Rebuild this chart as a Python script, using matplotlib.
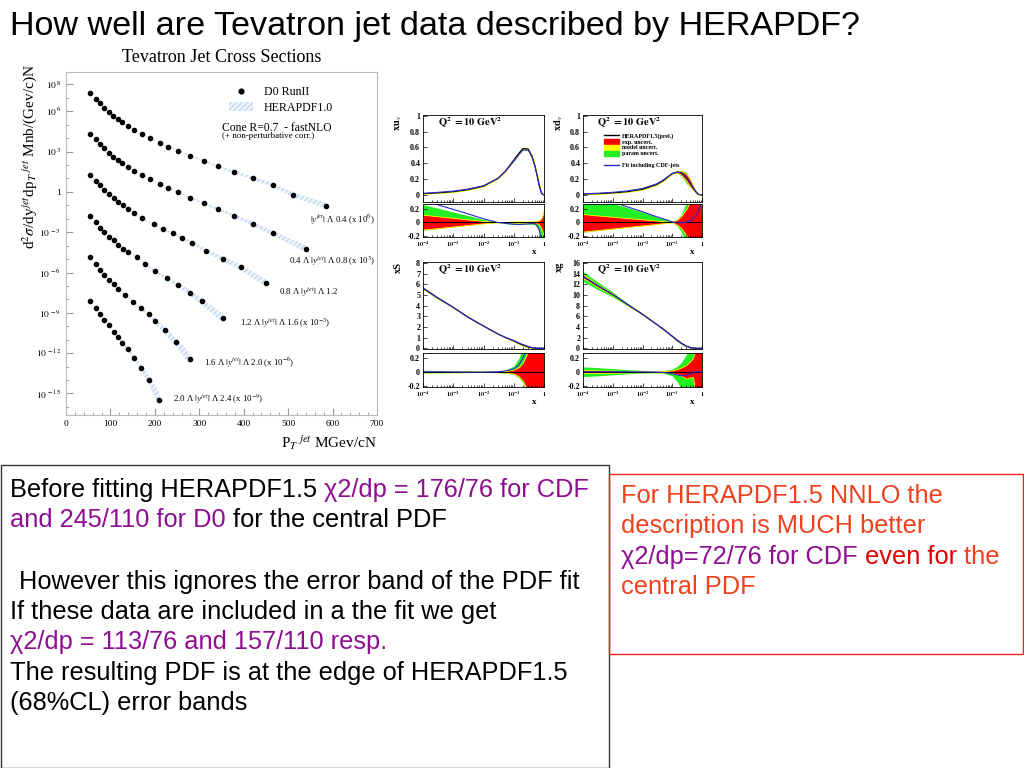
import numpy as np
import matplotlib
matplotlib.use("Agg")
import matplotlib.pyplot as plt
from matplotlib.patches import Rectangle, Patch
from matplotlib.lines import Line2D
from matplotlib.ticker import FixedLocator, NullFormatter, MultipleLocator, LogLocator

plt.rcParams['font.family'] = ['Liberation Serif', 'DejaVu Serif']
plt.rcParams['mathtext.fontset'] = 'stix'
plt.rcParams['hatch.linewidth'] = 0.5
SANS = ['Liberation Sans', 'DejaVu Sans']

# ---- D0 Run II inclusive jets: pT (GeV) and log10 of the (scaled) cross section
pt_1 = [54, 67, 76, 86, 97, 106, 117, 127, 139, 154, 170, 190, 211, 230, 253, 280, 310, 341, 379, 420, 466, 512, 586]
lg_1 = [7.38, 6.93, 6.59, 6.24, 5.94, 5.67, 5.44, 5.22, 4.87, 4.63, 4.30, 3.98, 3.66, 3.36, 3.06, 2.69, 2.32, 1.90, 1.47, 1.03, 0.48, -0.21, -1.03]
bw_1 = [0.03, 0.03, 0.03, 0.03, 0.03, 0.03, 0.03, 0.03, 0.03, 0.03, 0.04, 0.04, 0.04, 0.05, 0.05, 0.06, 0.07, 0.08, 0.10, 0.12, 0.15, 0.18, 0.22]

pt_2 = [54, 67, 76, 86, 97, 106, 117, 127, 139, 154, 170, 190, 211, 230, 253, 280, 310, 341, 379, 420, 466, 540]
lg_2 = [4.33, 3.91, 3.56, 3.24, 2.91, 2.62, 2.37, 2.14, 1.82, 1.57, 1.25, 0.93, 0.61, 0.31, -0.04, -0.44, -0.86, -1.28, -1.78, -2.37, -3.09, -4.23]
bw_2 = [0.03, 0.03, 0.03, 0.03, 0.03, 0.03, 0.03, 0.03, 0.03, 0.04, 0.04, 0.04, 0.05, 0.05, 0.06, 0.07, 0.08, 0.10, 0.12, 0.15, 0.18, 0.25]

pt_3 = [54, 67, 76, 86, 97, 107, 117, 129, 139, 154, 170, 197, 219, 240, 260, 283, 316, 353, 393, 450]
lg_3 = [1.25, 0.83, 0.48, 0.13, -0.16, -0.46, -0.76, -0.98, -1.28, -1.55, -1.93, -2.40, -2.77, -3.09, -3.41, -3.79, -4.38, -4.98, -5.60, -6.81]
bw_3 = [0.03, 0.03, 0.03, 0.03, 0.03, 0.03, 0.03, 0.04, 0.04, 0.04, 0.05, 0.06, 0.07, 0.08, 0.10, 0.12, 0.15, 0.18, 0.22, 0.28]

pt_4 = [54, 67, 76, 86, 97, 107, 117, 129, 139, 159, 178, 200, 227, 253, 278, 305, 353]
lg_4 = [-1.80, -2.25, -2.65, -2.99, -3.32, -3.61, -3.94, -4.23, -4.48, -4.83, -5.35, -5.90, -6.44, -6.94, -7.51, -8.13, -9.42]
bw_4 = [0.03, 0.03, 0.03, 0.03, 0.04, 0.04, 0.04, 0.05, 0.05, 0.06, 0.08, 0.10, 0.13, 0.16, 0.20, 0.25, 0.32]

pt_5 = [54, 67, 76, 86, 97, 107, 117, 133, 151, 168, 186, 201, 222, 247, 278]
lg_5 = [-4.88, -5.37, -5.80, -6.17, -6.52, -6.84, -7.21, -7.68, -8.20, -8.67, -9.10, -9.62, -10.31, -11.16, -12.40]
bw_5 = [0.03, 0.03, 0.04, 0.04, 0.04, 0.05, 0.06, 0.07, 0.09, 0.11, 0.14, 0.18, 0.24, 0.32, 0.42]

pt_6 = [54, 67, 76, 86, 97, 107, 117, 127, 139, 154, 169, 186, 210]
lg_6 = [-8.13, -8.63, -9.10, -9.52, -9.94, -10.39, -10.78, -11.21, -11.70, -12.37, -13.07, -13.96, -15.45]
bw_6 = [0.04, 0.04, 0.05, 0.05, 0.06, 0.07, 0.08, 0.10, 0.13, 0.17, 0.23, 0.32, 0.50]

jet_labels = [r'$|y^{jet}|$ Λ 0.4 (x 10$^{6}$)',
              r'0.4 Λ $|y^{jet}|$ Λ 0.8 (x 10$^{3}$)',
              r'0.8 Λ $|y^{jet}|$ Λ 1.2',
              r'1.2 Λ $|y^{jet}|$ Λ 1.6 (x 10$^{-3}$)',
              r'1.6 Λ $|y^{jet}|$ Λ 2.0 (x 10$^{-6}$)',
              r'2.0 Λ $|y^{jet}|$ Λ 2.4 (x 10$^{-9}$)']
jet_yticks = [8, 6, 3, 0, -3, -6, -9, -12, -15]

# ---- HERAPDF1.5 at Q2 = 10 GeV2
xgrid = [1e-4, 3e-4, 1e-3, 3e-3, 1e-2, 3e-2, 0.05, 0.1, 0.15, 0.2, 0.3, 0.4, 0.5, 0.6, 0.7, 0.8, 0.9, 1.0]

xuv = [0.015, 0.025, 0.04, 0.065, 0.11, 0.21, 0.29, 0.44, 0.53, 0.585, 0.58, 0.49, 0.37, 0.24, 0.12, 0.04, 0.008, 0.0]
xuv_exp_hi = [0.11, 0.088, 0.064, 0.042, 0.017, 0.003, 0.005, 0.01, 0.01, 0.01, 0.01, 0.012, 0.015, 0.02, 0.03, 0.05, 0.1, 0.2]
xuv_exp_lo = [-0.11, -0.088, -0.064, -0.042, -0.017, -0.003, -0.005, -0.01, -0.01, -0.01, -0.01, -0.012, -0.015, -0.02, -0.04, -0.08, -0.15, -0.2]
xuv_par_hi = [0.26, 0.21, 0.15, 0.10, 0.041, 0.005, 0.007, 0.012, 0.012, 0.012, 0.012, 0.015, 0.02, 0.025, 0.035, 0.06, 0.12, 0.22]
xuv_par_lo = [-0.12, -0.095, -0.07, -0.046, -0.02, -0.006, -0.02, -0.035, -0.035, -0.03, -0.03, -0.03, -0.04, -0.08, -0.15, -0.3, -0.35, -0.35]
xuv_fit = [0.32, 0.26, 0.19, 0.125, 0.05, -0.005, -0.015, -0.03, -0.035, -0.03, -0.025, -0.02, -0.02, -0.05, -0.12, -0.25, -0.35, -0.35]

xdv = [0.01, 0.015, 0.025, 0.04, 0.07, 0.13, 0.18, 0.27, 0.29, 0.28, 0.22, 0.15, 0.09, 0.045, 0.017, 0.005, 0.001, 0.0]
xdv_exp_hi = [0.12, 0.10, 0.08, 0.061, 0.042, 0.023, 0.013, 0.002, 0.04, 0.09, 0.2, 0.3, 0.3, 0.3, 0.3, 0.3, 0.3, 0.3]
xdv_exp_lo = [-0.14, -0.118, -0.094, -0.071, -0.049, -0.027, -0.015, -0.002, -0.04, -0.09, -0.2, -0.3, -0.3, -0.3, -0.3, -0.3, -0.3, -0.3]
xdv_par_hi = [0.35, 0.33, 0.28, 0.22, 0.15, 0.08, 0.05, 0.006, 0.05, 0.11, 0.3, 0.35, 0.35, 0.35, 0.35, 0.35, 0.35, 0.35]
xdv_par_lo = [-0.15, -0.125, -0.1, -0.076, -0.053, -0.03, -0.018, -0.004, -0.06, -0.14, -0.35, -0.35, -0.35, -0.35, -0.35, -0.35, -0.35, -0.35]
xdv_fit = [0.4, 0.36, 0.3, 0.23, 0.155, 0.08, 0.05, 0.005, -0.01, -0.01, 0.0, 0.02, 0.05, 0.1, 0.15, 0.2, 0.25, 0.3]

xsea = [5.65, 4.75, 3.85, 2.95, 2.1, 1.35, 1.05, 0.7, 0.45, 0.3, 0.13, 0.06, 0.025, 0.01, 0.004, 0.001, 0.0, 0.0]
xsea_exp_hi = [0.01, 0.009, 0.008, 0.006, 0.005, 0.006, 0.01, 0.03, 0.07, 0.13, 0.3, 0.3, 0.3, 0.3, 0.3, 0.3, 0.3, 0.3]
xsea_exp_lo = [-0.01, -0.009, -0.008, -0.006, -0.005, -0.006, -0.01, -0.03, -0.07, -0.13, -0.3, -0.3, -0.3, -0.3, -0.3, -0.3, -0.3, -0.3]
xsea_par_hi = [0.02, 0.018, 0.015, 0.012, 0.01, 0.012, 0.02, 0.08, 0.2, 0.35, 0.35, 0.35, 0.35, 0.35, 0.35, 0.35, 0.35, 0.35]
xsea_par_lo = [-0.02, -0.018, -0.015, -0.012, -0.01, -0.012, -0.02, -0.04, -0.09, -0.16, -0.35, -0.35, -0.35, -0.35, -0.35, -0.35, -0.35, -0.35]
xsea_fit = [0.0, 0.0, -0.003, -0.005, -0.005, 0.0, 0.01, 0.04, 0.1, 0.2, 0.35, 0.35, 0.35, 0.35, 0.35, 0.35, 0.35, 0.35]

xglu = [13.5, 11.8, 10.1, 8.3, 6.4, 4.5, 3.6, 2.3, 1.5, 1.0, 0.42, 0.17, 0.06, 0.02, 0.005, 0.001, 0.0, 0.0]
xglu_exp_hi = [0.025, 0.02, 0.015, 0.01, 0.008, 0.008, 0.01, 0.02, 0.04, 0.06, 0.1, 0.15, 0.2, 0.3, 0.3, 0.3, 0.3, 0.3]
xglu_exp_lo = [-0.02, -0.018, -0.015, -0.01, -0.008, -0.008, -0.01, -0.02, -0.04, -0.06, -0.1, -0.08, -0.08, -0.3, -0.3, -0.3, -0.3, -0.3]
xglu_par_hi = [0.07, 0.06, 0.045, 0.03, 0.02, 0.015, 0.015, 0.04, 0.08, 0.13, 0.25, 0.35, 0.35, 0.35, 0.35, 0.35, 0.35, 0.35]
xglu_par_lo = [-0.07, -0.06, -0.045, -0.03, -0.02, -0.015, -0.02, -0.06, -0.15, -0.25, -0.3, -0.35, -0.2, -0.35, -0.35, -0.35, -0.35, -0.35]
xglu_fit = [0.0, 0.0, 0.0, 0.0, -0.002, -0.005, -0.01, -0.03, -0.045, -0.06, -0.05, -0.03, -0.02, 0.0, 0.0, 0.0, 0.0, 0.0]

W, H = 1024, 768
fig = plt.figure(figsize=(W / 100, H / 100), dpi=100)


def px_axes(l, t, r, b):
    return fig.add_axes([l / W, 1 - b / H, (r - l) / W, (b - t) / H])


def ftext(x, y, s, **kw):
    return fig.text(x / W, 1 - y / H, s, **kw)


ftext(10, 35, 'How well are Tevatron jet data described by HERAPDF?', fontsize=24.6, family=SANS)

# ================= Tevatron jet cross sections =================
ax = px_axes(66, 72, 377, 415)
ax.set_yscale('log')
ax.set_xlim(0, 700)
ax.set_ylim(10 ** -16.6, 10 ** 8.92)
for pt, lg, bw in [(pt_1, lg_1, bw_1), (pt_2, lg_2, bw_2), (pt_3, lg_3, bw_3),
                   (pt_4, lg_4, bw_4), (pt_5, lg_5, bw_5), (pt_6, lg_6, bw_6)]:
    pt, lg, bw = np.array(pt), np.array(lg), np.array(bw)
    ax.fill_between(pt, 10 ** (lg - bw), 10 ** (lg + bw), facecolor='#eef4fc',
                    edgecolor='#9fbde6', hatch='//////', lw=0)
    ax.plot(pt, 10.0 ** lg, 'o', color='black', ms=3.0)

lab_pos = [(549, -2.1), (501, -5.17), (480, -7.46), (392, -9.76), (311, -12.75), (241, -15.43)]
for s, (xp, yp) in zip(jet_labels, lab_pos):
    ax.text(xp, 10 ** yp, s, fontsize=6.3, va='center', ha='left')

ax.set_xticks(range(0, 701, 100))
ax.xaxis.set_minor_locator(MultipleLocator(20))
ax.set_yticks([10.0 ** e for e in jet_yticks])
ax.set_yticklabels(['1' if e == 0 else r'$10^{\,%d}$' % e for e in jet_yticks])
ax.yaxis.set_minor_locator(FixedLocator([10.0 ** e for e in range(-16, 9)]))
ax.yaxis.set_minor_formatter(NullFormatter())
ax.tick_params(which='both', direction='in', color='#999999', labelsize=6.8)
ax.tick_params(which='major', length=5)
ax.tick_params(which='minor', length=2.5)
for sp in ax.spines.values():
    sp.set_color('#bbbbbb')
    sp.set_linewidth(0.8)

h1 = Line2D([], [], marker='o', color='black', ls='none', ms=3.4)
h2 = Patch(facecolor='#eef4fc', edgecolor='#9fbde6', hatch='//////', lw=0)
ax.legend([h1, h2], ['D0 RunII', 'HERAPDF1.0'], loc='upper left', bbox_to_anchor=(0.49, 0.99),
          frameon=False, fontsize=8.6, handlelength=2.0, handletextpad=0.9, labelspacing=0.3)
ax.text(0.503, 0.837, 'Cone R=0.7  - fastNLO', transform=ax.transAxes, fontsize=8.4, va='center')
ax.text(0.503, 0.812, '(+ non-perturbative corr.)', transform=ax.transAxes, fontsize=6.5, va='center')

ftext(222, 57, 'Tevatron Jet Cross Sections', fontsize=13, ha='center', va='center')
ftext(30, 156, r'd$^{2}\sigma$/dy$^{jet}$dp$_{T}$$^{\ jet}$ Mnb/(Gev/c)N', fontsize=11,
      rotation=90, ha='center', va='center')
ftext(377, 443, r'P$_{T}$$^{\ jet}$ MGev/cN', fontsize=11, ha='right', va='center')

# ================= HERAPDF panels =================
RED, YEL, GRN, BLU = '#ff0000', '#ffff00', '#22ee22', '#2a2ad0'
xg = np.array(xgrid)


def style(a, fs=5.8):
    a.tick_params(which='both', direction='in', labelsize=fs, width=0.5, pad=2)
    a.tick_params(which='major', length=3)
    a.tick_params(which='minor', length=1.5)
    for sp in a.spines.values():
        sp.set_linewidth(0.6)
    for t in a.get_xticklabels() + a.get_yticklabels():
        t.set_fontweight('bold')


def pdf_panel(l, r, tm, bm, tr, br, cen, ehi, elo, phi, plo, fit, ylim, yt, ylab, legend=False):
    cen, ehi, elo = np.array(cen), np.array(ehi), np.array(elo)
    phi, plo, fit = np.array(phi), np.array(plo), np.array(fit)
    am = px_axes(l, tm, r, bm)
    am.set_xscale('log')
    am.fill_between(xg, cen * (1 + plo), cen * (1 + phi), color=GRN, lw=0)
    am.fill_between(xg, cen * (1 + elo), cen * (1 + ehi), facecolor=RED, edgecolor=YEL, lw=0.6)
    am.plot(xg, cen, color='black', lw=0.8)
    am.plot(xg, cen * (1 + fit), color=BLU, lw=0.8)
    am.set_xlim(1e-4, 1)
    am.set_ylim(*ylim)
    am.set_yticks(yt)
    am.set_yticklabels([('%g' % v) for v in yt])
    am.xaxis.set_major_formatter(NullFormatter())
    am.xaxis.set_minor_formatter(NullFormatter())
    am.xaxis.set_minor_locator(LogLocator(subs=np.arange(2, 10), numticks=20))
    style(am)
    am.text(0.39, 0.905, r'$\mathbf{Q^{2}\ =10\ GeV^{2}}$', transform=am.transAxes,
            fontsize=7.5, ha='center', va='center')
    am.text(-0.2, 1.0, ylab, transform=am.transAxes, rotation=90, fontsize=7.5,
            fontweight='bold', ha='center', va='top')
    if legend:
        hs = [Line2D([], [], color='black', lw=1), Patch(color=RED), Patch(color=YEL),
              Patch(color=GRN), Line2D([], [], color='none'), Line2D([], [], color=BLU, lw=1)]
        ls = ['HERAPDF1.5(prel.)', 'exp. uncert.', 'model uncert.', 'param uncert.', '',
              'Fit including CDF-jets']
        am.legend(hs, ls, loc='upper left', bbox_to_anchor=(0.15, 0.83), frameon=False,
                  prop={'size': 4.3, 'weight': 'bold'}, handlelength=2.6, handleheight=0.9,
                  labelspacing=0.05, borderpad=0, handletextpad=0.5)

    ar = px_axes(l, tr, r, br)
    ar.set_xscale('log')
    ar.fill_between(xg, plo, phi, color=GRN, lw=0)
    ar.fill_between(xg, elo, ehi, facecolor=RED, edgecolor=YEL, lw=0.6)
    ar.axhline(0, color='black', lw=0.7)
    ar.plot(xg, fit, color=BLU, lw=0.8)
    ar.set_xlim(1e-4, 1)
    ar.set_ylim(-0.22, 0.27)
    ar.set_yticks([-0.2, 0, 0.2])
    ar.set_yticklabels(['-0.2', '0', '0.2'])
    ar.set_xticks([1e-4, 1e-3, 1e-2, 1e-1, 1])
    ar.set_xticklabels([r'$\mathbf{10^{-4}}$', r'$\mathbf{10^{-3}}$', r'$\mathbf{10^{-2}}$',
                        r'$\mathbf{10^{-1}}$', r'$\mathbf{1}$'])
    ar.xaxis.set_minor_locator(LogLocator(subs=np.arange(2, 10), numticks=20))
    ar.xaxis.set_minor_formatter(NullFormatter())
    style(ar)
    ar.tick_params(axis='x', labelsize=4.5, pad=2)
    ar.text(0.92, -0.45, 'x', transform=ar.transAxes, fontsize=6.5, fontweight='bold',
            ha='center', va='center')


pdf_panel(423, 544, 115, 202, 204, 237, xuv, xuv_exp_hi, xuv_exp_lo, xuv_par_hi, xuv_par_lo,
          xuv_fit, (-0.09, 1.01), [0, 0.2, 0.4, 0.6, 0.8, 1], r'xu$_{v}$')
pdf_panel(583, 702, 115, 202, 204, 237, xdv, xdv_exp_hi, xdv_exp_lo, xdv_par_hi, xdv_par_lo,
          xdv_fit, (-0.09, 1.01), [0, 0.2, 0.4, 0.6, 0.8, 1], r'xd$_{v}$', legend=True)
pdf_panel(423, 544, 262, 349, 353, 387, xsea, xsea_exp_hi, xsea_exp_lo, xsea_par_hi,
          xsea_par_lo, xsea_fit, (-0.06, 8.1), list(range(0, 9)), 'xS')
pdf_panel(583, 702, 262, 349, 353, 387, xglu, xglu_exp_hi, xglu_exp_lo, xglu_par_hi,
          xglu_par_lo, xglu_fit, (-0.12, 16.2), list(range(0, 17, 2)), 'xg')

# ================= text boxes =================
PURP = '#8e0e92'
ORED = '#f0401e'
fig.add_artist(Rectangle((0.5 / W, 0), 608 / W, 1 - 465 / H, transform=fig.transFigure,
                         fill=False, edgecolor='#333333', lw=1.0))
fig.add_artist(Rectangle((609 / W, 1 - 654 / H), 414 / W, 180 / H, transform=fig.transFigure,
                         fill=False, edgecolor='#ee2222', lw=1.0))

FS = 18.3
renderer = fig.canvas.get_renderer()


def rich_line(x, y, parts):
    for s, c in parts:
        ftext(x, y, s, color=c, fontsize=FS, family=SANS, va='baseline')
        probe = ftext(0, 0, s + '|', fontsize=FS, family=SANS)
        bar = ftext(0, 0, '|', fontsize=FS, family=SANS)
        x += probe.get_window_extent(renderer).width - bar.get_window_extent(renderer).width
        probe.remove()
        bar.remove()


left_lines = [
    (10, 497, [('Before fitting HERAPDF1.5 ', 'black'), ('χ2/dp = 176/76 for CDF', PURP)]),
    (10, 527, [('and 245/110 for D0', PURP), (' for the central PDF', 'black')]),
    (19, 589, [('However this ignores the error band of the PDF fit', 'black')]),
    (10, 619, [('If these data are included in a the fit we get', 'black')]),
    (10, 649, [('χ2/dp = 113/76 and 157/110 resp.', PURP)]),
    (10, 680, [('The resulting PDF is at the edge of HERAPDF1.5', 'black')]),
    (10, 710, [('(68%CL) error bands', 'black')]),
]
right_lines = [
    (621, 503, [('For HERAPDF1.5 NNLO the', ORED)]),
    (621, 533, [('description is MUCH better', ORED)]),
    (621, 564, [('χ2/dp=72/76 for CDF', PURP), (' even for', '#e00000'), (' the', ORED)]),
    (621, 594, [('central PDF', ORED)]),
]
for x0, y0, parts in left_lines + right_lines:
    rich_line(x0, y0, parts)

fig.savefig('out.png', dpi=100)
